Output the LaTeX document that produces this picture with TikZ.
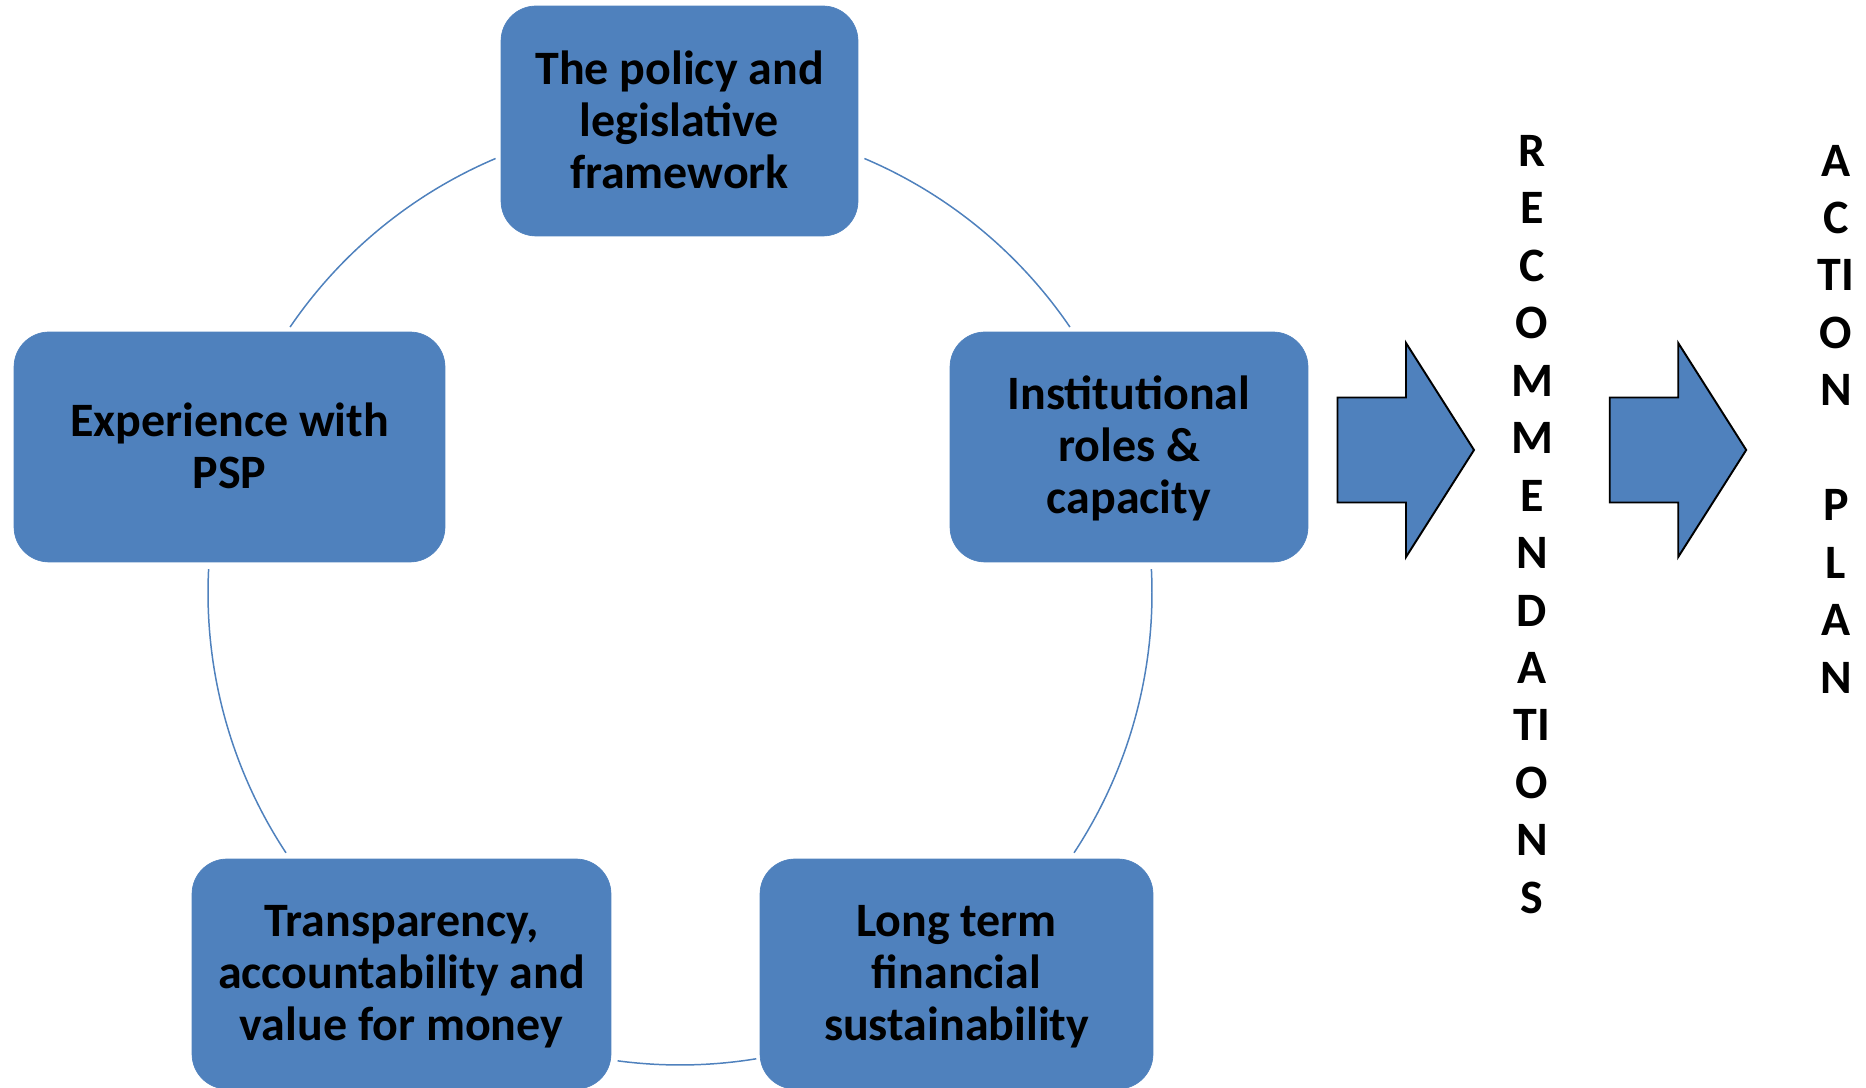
\documentclass[tikz,border=0pt]{standalone}
\usepackage{fontspec}
\setmainfont{Carlito}
\definecolor{boxblue}{HTML}{4F81BD}
% line strut: full ascent, shallow descent
\newcommand\linestrut{\rule[-2.9pt]{0pt}{23.6pt}}
\begin{document}
\begin{tikzpicture}[x=0.02cm,y=0.02cm,
  topic/.style={draw=boxblue, fill=boxblue, rounded corners=0.7cm,
    minimum height=4.6cm, align=center, inner sep=0pt,
    font=\fontsize{27.3}{29.6}\selectfont\bfseries},
  ring/.style={draw=boxblue, line width=0.85pt},
  bigarrow/.style={fill=boxblue, draw=black, line width=1.1pt, line join=miter},
  column/.style={align=center, inner sep=0pt,
    font=\fontsize{27.3}{32.7}\selectfont\bfseries}]

\useasboundingbox (0,0) rectangle (1866,1088);

% the five topics around the ring
\node[topic, minimum width=7.14cm] (policy) at (679.5,967)
  {\linestrut The policy and\\legislative\\framework\linestrut};
\node[topic, minimum width=7.16cm] (inst) at (1129,641)
  {\linestrut Institutional\\roles \&\\capacity\linestrut};
\node[topic, minimum width=8.62cm] (psp) at (229.5,641)
  {\linestrut Experience with\\PSP\linestrut};
\node[topic, minimum width=8.38cm] (trans) at (401.5,114)
  {\linestrut Transparency,\\accountability and\\value for money\linestrut};
\node[topic, minimum width=7.86cm] (fin) at (956.5,114)
  {\linestrut Long term\\financial\\sustainability\linestrut};

% ring segments joining neighbouring topics
\coordinate (hub) at (680,495);
\draw[ring] (hub) ++(113:472)   arc[start angle=113,   end angle=145.7, radius=472];
\draw[ring] (hub) ++(67:472)    arc[start angle=67,    end angle=34.3,  radius=472];
\draw[ring] (hub) ++(177.1:472) arc[start angle=177.1, end angle=213.4, radius=472];
\draw[ring] (hub) ++(2.9:472)   arc[start angle=2.9,   end angle=-33.4, radius=472];
\draw[ring] (hub) ++(262.4:472) arc[start angle=262.4, end angle=279.3, radius=472];

% block arrows
\coordinate (a1) at (1337.5,638);
\coordinate (a2) at (1609.7,638);
\draw[bigarrow] (a1) ++(0,52.5) -- ++(68.5,0) -- ++(0,54.5) -- ++(68,-107)
  -- ++(-68,-107) -- ++(0,54.5) -- ++(-68.5,0) -- cycle;
\draw[bigarrow] (a2) ++(0,52.5) -- ++(68.5,0) -- ++(0,54.5) -- ++(68,-107)
  -- ++(-68,-107) -- ++(0,54.5) -- ++(-68.5,0) -- cycle;

% vertical captions
\node[column] (rec) at (1532,563.5)
  {R\\E\\C\\O\\M\\M\\E\\N\\D\\A\\TI\\O\\N\\S};
\node[column] (act) at (1836,669)
  {A\\C\\TI\\O\\N\\~\\P\\L\\A\\N};
\end{tikzpicture}
\end{document}
